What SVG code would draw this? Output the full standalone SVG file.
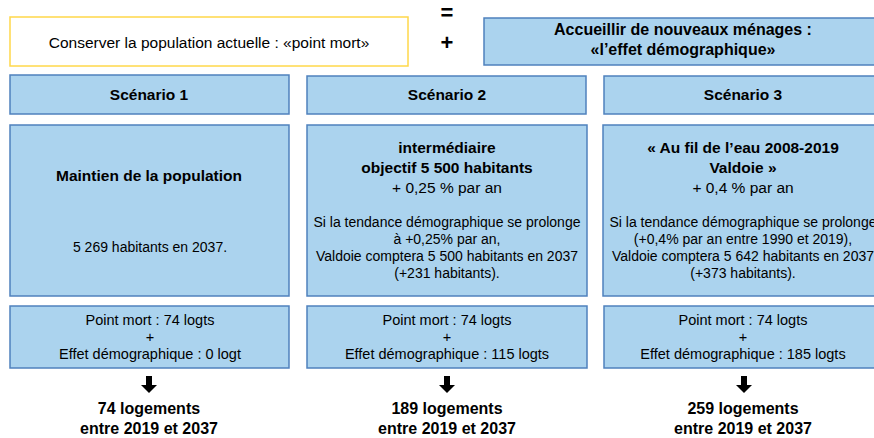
<svg xmlns="http://www.w3.org/2000/svg" width="874" height="438" viewBox="0 0 874 438">
<style>
.box{fill:#abd3ee;stroke:#4f81bd;stroke-width:1.5}
.ybox{fill:#fff;stroke:#ffd84a;stroke-width:1.5}
text{font-family:"Liberation Sans",Arial,sans-serif;fill:#000;text-anchor:middle}
.b{font-weight:bold;font-size:15.5px}
.bt{font-weight:bold;font-size:16px}
.r{font-size:15.5px}
.s{font-size:14px}
.m{font-size:14.5px}
.arrow{fill:#000}
</style>
<defs>
<path id="arr" d="M-3,376 h6 v9 h5 l-8,8 l-8,-8 h5 z"/>
</defs>
<rect width="874" height="438" fill="#fff"/>

<g id="point-mort">
<rect class="ybox" x="10" y="17" width="398" height="49"/>
<text class="r" x="209" y="48">Conserver la population actuelle : «point mort»</text>
</g>

<g id="operators">
<text class="bt" x="447" y="20" style="font-size:22px">=</text>
<text class="bt" x="447" y="50" style="font-size:22px">+</text>
</g>

<g id="effet-demographique">
<rect class="box" x="484" y="18" width="398" height="47"/>
<text class="bt" x="683" y="35">Accueillir de nouveaux ménages :</text>
<text class="bt" x="683" y="55">«l’effet démographique»</text>
</g>

<g id="scenario1">
<rect class="box" x="10" y="75" width="279" height="39"/>
<text class="b" x="149" y="100">Scénario 1</text>
</g>
<g id="scenario2">
<rect class="box" x="307" y="76" width="279" height="38"/>
<text class="b" x="447" y="100">Scénario 2</text>
</g>
<g id="scenario3">
<rect class="box" x="604" y="76" width="279" height="38"/>
<text class="b" x="743" y="100">Scénario 3</text>
</g>

<g id="desc1">
<rect class="box" x="10" y="125" width="279" height="171"/>
<text class="b" x="149" y="181">Maintien de la population</text>
<text class="s" x="150" y="252">5 269 habitants en 2037.</text>
</g>
<g id="desc2">
<rect class="box" x="307" y="125" width="280" height="171"/>
<text class="b" x="447" y="153">intermédiaire</text>
<text class="b" x="447" y="173">objectif 5 500 habitants</text>
<text class="r" x="447" y="193">+ 0,25 % par an</text>
<text class="s" x="447" y="227">Si la tendance démographique se prolonge</text>
<text class="s" x="447" y="244">à +0,25% par an,</text>
<text class="s" x="447" y="261">Valdoie comptera 5 500 habitants en 2037</text>
<text class="s" x="447" y="278">(+231 habitants).</text>
</g>
<g id="desc3">
<rect class="box" x="603" y="125" width="280" height="171"/>
<text class="b" x="743" y="153">« Au fil de l’eau 2008-2019</text>
<text class="b" x="743" y="173">Valdoie »</text>
<text class="r" x="743" y="193">+ 0,4 % par an</text>
<text class="s" x="743" y="227">Si la tendance démographique se prolonge</text>
<text class="s" x="743" y="244">(+0,4% par an entre 1990 et 2019),</text>
<text class="s" x="743" y="261">Valdoie comptera 5 642 habitants en 2037</text>
<text class="s" x="743" y="278">(+373 habitants).</text>
</g>

<g id="calc1">
<rect class="box" x="10" y="306" width="279" height="62"/>
<text class="m" x="150" y="325">Point mort : 74 logts</text>
<text class="m" x="150" y="342">+</text>
<text class="m" x="150" y="359">Effet démographique : 0 logt</text>
</g>
<g id="calc2">
<rect class="box" x="307" y="306" width="280" height="62"/>
<text class="m" x="447" y="325">Point mort : 74 logts</text>
<text class="m" x="447" y="342">+</text>
<text class="m" x="447" y="359">Effet démographique : 115 logts</text>
</g>
<g id="calc3">
<rect class="box" x="604" y="306" width="279" height="62"/>
<text class="m" x="743" y="325">Point mort : 74 logts</text>
<text class="m" x="743" y="342">+</text>
<text class="m" x="743" y="359">Effet démographique : 185 logts</text>
</g>

<g id="connectors" class="arrow">
<use href="#arr" x="149"/>
<use href="#arr" x="447"/>
<use href="#arr" x="744"/>
</g>

<g id="result1">
<text class="bt" x="149" y="414">74 logements</text>
<text class="bt" x="149" y="434">entre 2019 et 2037</text>
</g>
<g id="result2">
<text class="bt" x="447" y="414">189 logements</text>
<text class="bt" x="447" y="434">entre 2019 et 2037</text>
</g>
<g id="result3">
<text class="bt" x="743" y="414">259 logements</text>
<text class="bt" x="743" y="434">entre 2019 et 2037</text>
</g>
</svg>
